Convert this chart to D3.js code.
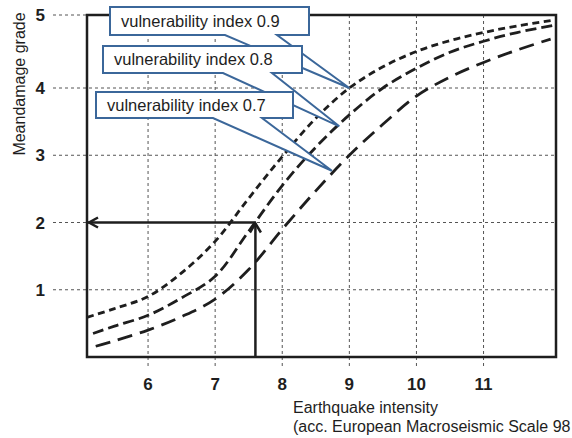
<!DOCTYPE html>
<html>
<head>
<meta charset="utf-8">
<script src="https://cdn.jsdelivr.net/npm/d3@7"></script>
<style>
  html, body { margin: 0; padding: 0; background: #fff; }
  svg { display: block; font-family: "Liberation Sans", Arial, Helvetica, sans-serif; }
</style>
</head>
<body>
<svg id="chart" width="572" height="438"></svg>
<script>
// ---- data ----
const xTicks = [6, 7, 8, 9, 10, 11];
const yTicks = [1, 2, 3, 4, 5];

const intensity09 = [5.09, 5.5, 6, 6.5, 7, 7.5, 8, 8.5, 9, 9.5, 10, 10.5, 11, 11.5, 12.06];
const grade09     = [0.59, 0.72, 0.9, 1.25, 1.72, 2.36, 2.98, 3.55, 4.0, 4.29, 4.5, 4.65, 4.76, 4.85, 4.93];

const intensity08 = [5.18, 5.5, 6, 6.5, 7, 7.5, 8, 8.5, 9, 9.5, 10, 10.5, 11, 11.5, 12.05];
const grade08     = [0.35, 0.46, 0.62, 0.88, 1.2, 1.87, 2.55, 3.12, 3.6, 4.0, 4.27, 4.49, 4.64, 4.76, 4.86];

const intensity07 = [5.22, 5.5, 6, 6.5, 7, 7.5, 8, 8.5, 9, 9.5, 10, 10.5, 11, 11.5, 12.0];
const grade07     = [0.16, 0.24, 0.4, 0.6, 0.86, 1.3, 1.9, 2.47, 3.0, 3.46, 3.88, 4.15, 4.35, 4.52, 4.67];

const seriesLabels = ["vulnerability index 0.9", "vulnerability index 0.8", "vulnerability index 0.7"];
// callout tip points (intensity, grade)
const tipIntensity = [9.0, 8.85, 8.74];
const tipGrade     = [4.0, 3.43, 2.77];

// reading example
const readIntensity = 7.6;
const readGrade = 2;

const yTitle = "Meandamage grade";
const xTitle1 = "Earthquake intensity";
const xTitle2 = "(acc. European Macroseismic Scale 98";

// ---- layout ----
const svg = d3.select("#chart");
const x = d3.scaleLinear().domain([5.09, 12.08]).range([87, 556]);
const y = d3.scaleLinear().domain([0, 4, 5]).range([357, 88, 15]);
const ink = "#1e1e1e";
const blue = "#3b679a";

// gridlines
const grid = svg.append("g");
grid.selectAll("line.v").data(xTicks).join("line")
  .attr("x1", d => x(d)).attr("x2", d => x(d))
  .attr("y1", y(5)).attr("y2", 369)
  .attr("stroke", "#555").attr("stroke-width", 1).attr("stroke-dasharray", "3,3");
grid.selectAll("line.h").data(yTicks).join("line")
  .attr("x1", 53).attr("x2", x.range()[1])
  .attr("y1", d => y(d)).attr("y2", d => y(d))
  .attr("stroke", "#555").attr("stroke-width", 1).attr("stroke-dasharray", "3,3");

// frame
svg.append("rect")
  .attr("x", x.range()[0]).attr("y", y(5))
  .attr("width", x.range()[1] - x.range()[0])
  .attr("height", y(0) - y(5))
  .attr("fill", "none").attr("stroke", ink).attr("stroke-width", 2.5);

// tick labels
svg.append("g").selectAll("text").data(xTicks).join("text")
  .attr("x", d => x(d)).attr("y", 390)
  .attr("text-anchor", "middle")
  .attr("font-size", 17).attr("font-weight", "bold").attr("fill", ink)
  .text(d => d);
svg.append("g").selectAll("text").data(yTicks).join("text")
  .attr("x", 45).attr("y", d => y(d) + 6)
  .attr("text-anchor", "end")
  .attr("font-size", 17).attr("font-weight", "bold").attr("fill", ink)
  .text(d => d);

// axis titles
svg.append("text")
  .attr("transform", "translate(25,84) rotate(-90)")
  .attr("text-anchor", "middle")
  .attr("font-size", 16).attr("fill", ink)
  .text(yTitle);
svg.append("text").attr("x", 293).attr("y", 413)
  .attr("font-size", 16).attr("fill", ink).text(xTitle1);
svg.append("text").attr("x", 293).attr("y", 432)
  .attr("font-size", 16).attr("fill", ink).text(xTitle2);

// curves
const line = d3.line().x(d => x(d[0])).y(d => y(d[1])).curve(d3.curveCatmullRom.alpha(0.5));
const curves = [
  { xs: intensity09, ys: grade09, dash: "7,4.5" },
  { xs: intensity08, ys: grade08, dash: "11,5" },
  { xs: intensity07, ys: grade07, dash: "15,8" }
];
svg.append("g").selectAll("path").data(curves).join("path")
  .attr("d", c => line(c.xs.map((v, i) => [v, c.ys[i]])))
  .attr("fill", "none").attr("stroke", ink).attr("stroke-width", 2.8)
  .attr("stroke-dasharray", c => c.dash);

// reading arrows
const px = x(readIntensity), py = y(readGrade);
const arrows = svg.append("g").attr("stroke", ink).attr("stroke-width", 2.5).attr("fill", "none");
arrows.append("line").attr("x1", px).attr("y1", y(0)).attr("x2", px).attr("y2", py + 1);
arrows.append("line").attr("x1", px).attr("y1", py).attr("x2", x.range()[0] + 1).attr("y2", py);
arrows.append("path")
  .attr("d", `M${px - 5.5},${py + 10} L${px},${py + 1} L${px + 5.5},${py + 10}`);
arrows.append("path")
  .attr("d", `M${x.range()[0] + 11},${py - 5} L${x.range()[0] + 2},${py} L${x.range()[0] + 11},${py + 5}`);

// callouts
const boxes = [
  { x0: 110, x1: 309, y0: 7, y1: 35, tl: 225, tr: 277 },
  { x0: 103, x1: 302, y0: 46, y1: 73, tl: 223, tr: 272 },
  { x0: 96, x1: 293, y0: 92, y1: 118, tl: 213, tr: 262 }
];
const cg = svg.append("g");
boxes.forEach((b, i) => {
  const tx = x(tipIntensity[i]), ty = y(tipGrade[i]);
  cg.append("path")
    .attr("d", `M${b.x0},${b.y0} L${b.x1},${b.y0} L${b.x1},${b.y1} L${b.tr},${b.y1} L${tx},${ty} L${b.tl},${b.y1} L${b.x0},${b.y1} Z`)
    .attr("fill", "#fff").attr("stroke", blue).attr("stroke-width", 2)
    .attr("stroke-linejoin", "miter");
  cg.append("text")
    .attr("x", b.x0 + 11).attr("y", (b.y0 + b.y1) / 2 + 5.5)
    .attr("font-size", 16.5).attr("fill", ink)
    .text(seriesLabels[i]);
});
</script>
</body>
</html>
